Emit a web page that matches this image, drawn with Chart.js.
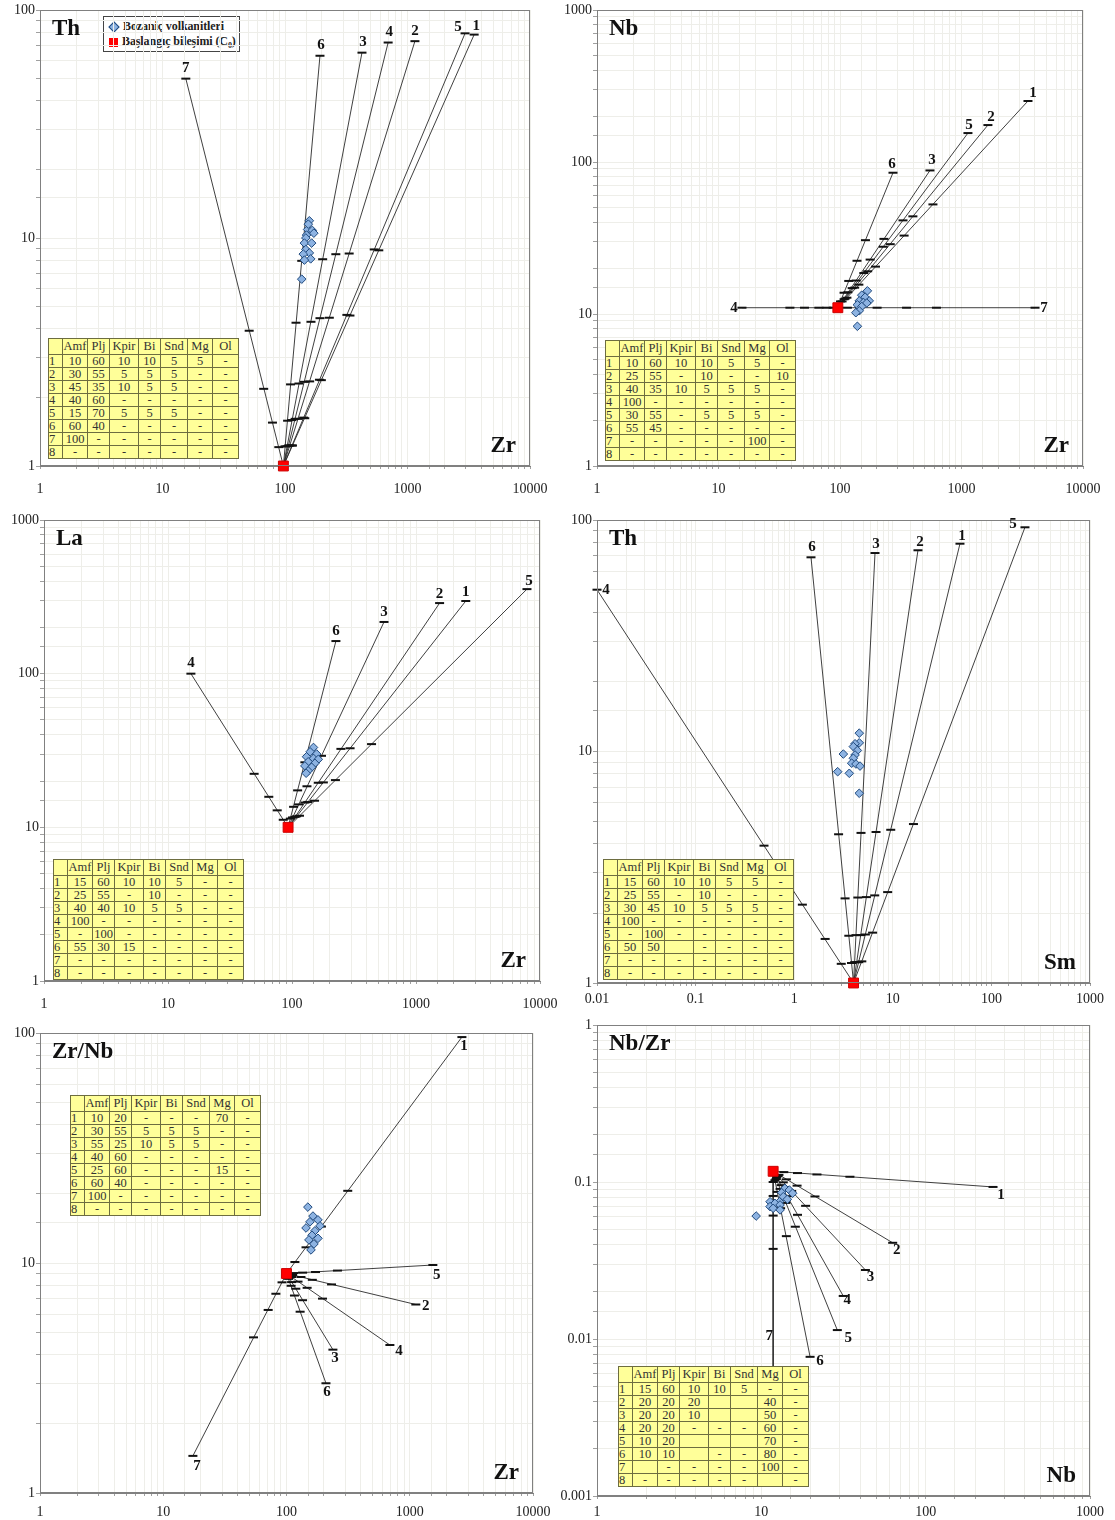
<!DOCTYPE html>
<html>
<head>
<meta charset="utf-8">
<script src="https://cdn.jsdelivr.net/npm/chart.js@4/dist/chart.umd.min.js"></script>
<style>
  body { margin:0; background:#fff; width:1115px; height:1520px; position:relative; overflow:hidden;
         font-family:"Liberation Serif","Times New Roman",serif; }
  canvas.pnl { position:absolute; }
  table.mix { position:absolute; border-collapse:collapse; table-layout:fixed; background:#ffff99;
              font-size:12.5px; color:#333; border:1px solid #55552e; }
  table.mix td { border:1px solid #6d6d40; padding:0; text-align:center; line-height:11px; overflow:hidden; white-space:nowrap; }
  table.mix tr.h td { height:15px; }
  table.mix tr.r td { height:12px; }
  .legend { position:absolute; left:103px; top:16px; width:137px; height:36px; border:1px solid #444; background:#fff;
            font-weight:bold; font-size:12px; color:#222; line-height:15px; padding:2px 0 0 4px; box-sizing:border-box;
            white-space:nowrap; letter-spacing:-0.1px; }
  .legend div { height:15px; }
  .dia { display:inline-block; width:6px; height:6px; background:#8db3e2; border:1px solid #1f497d; transform:rotate(45deg);
         margin:0 5px 0 2px; vertical-align:middle; }
  .sq { display:inline-block; width:9px; height:9px; background:#ff0000; margin:0 4px 0 1px; vertical-align:middle; }
  .legend sub { font-size:8px; line-height:0; }
</style>
</head>
<body>
<div class="legend">
  <div><span class="dia"></span>Bozaniç volkanitleri</div>
  <div><span class="sq"></span>Başlangıç bileşimi (C<sub>0</sub>)</div>
</div>
<script>
// ---------- Th vs Zr ----------
const thZr_c0 = [97, 1];
const thZr_ids = ['1', '2', '3', '4', '5', '6', '7'];
const thZr_ends = [[3500, 78], [1150, 73], [425, 65], [695, 72], [2950, 79], [193, 63], [15.5, 50]];
const thZr_steps = [
  [115, 1.23], [145, 1.62], [198, 2.38], [339, 4.57], [583, 8.83],
  [109, 1.23], [128, 1.61], [159, 2.35], [230, 4.47], [334, 8.55],
  [104, 1.22], [114, 1.59], [130, 2.30], [163, 4.29], [203, 8.07],
  [107, 1.23], [121, 1.61], [144, 2.34], [193, 4.45], [260, 8.49],
  [114, 1.23], [142, 1.63], [191, 2.39], [320, 4.60], [535, 8.91],
  [100, 1.22], [105, 1.58], [111, 2.28], [123, 4.25], [137, 7.94],
  [89, 1.21], [79, 1.55], [67, 2.18], [51, 3.92]
];
const thZr_rocks = [[158, 11.9], [153, 10.9], [167, 10.8], [150, 10.3], [148, 10.0], [144, 9.5], [165, 9.5],
  [148, 8.9], [158, 8.6], [141, 8.5], [162, 8.1], [144, 8.0], [137, 6.6], [172, 10.5], [155, 11.5]];
const thZr_table = [
  ['1', '10', '60', '10', '10', '5', '5', '-'],
  ['2', '30', '55', '5', '5', '5', '-', '-'],
  ['3', '45', '35', '10', '5', '5', '-', '-'],
  ['4', '40', '60', '-', '-', '-', '-', '-'],
  ['5', '15', '70', '5', '5', '5', '-', '-'],
  ['6', '60', '40', '-', '-', '-', '-', '-'],
  ['7', '100', '-', '-', '-', '-', '-', '-'],
  ['8', '-', '-', '-', '-', '-', '-', '-']
];

// ---------- Nb vs Zr ----------
const nbZr_c0 = [96, 11];
const nbZr_ids = ['1', '2', '3', '4', '5', '6', '7'];
const nbZr_ends = [[3525, 252], [1650, 175], [550, 88], [15.6, 11], [1130, 155], [273, 85], [4030, 11]];
const nbZr_steps = [
  [88, 11], [78, 11], [67, 11], [51, 11], [38.7, 11],
  [115, 11], [145, 11], [202, 11], [353, 11], [622, 11],
  [114, 12.8], [143, 15.6], [196, 20.5], [337, 32.8], [582, 52.6],
  [110, 12.6], [132, 14.9], [169, 19.1], [259, 28.8], [398, 43.9],
  [108, 12.5], [126, 14.8], [157, 18.6], [227, 27.7], [330, 41.3],
  [104, 12.1], [116, 13.9], [136, 16.6], [177, 22.8], [230, 31.2],
  [101, 12.1], [108, 13.8], [118, 16.5], [138, 22.4], [162, 30.6]
];
const nbZr_rocks = [[168, 14.2], [151, 13.3], [161, 12.9], [144, 12.2], [174, 12.2], [156, 11.9], [139, 11.5],
  [166, 11.8], [151, 11.2], [144, 10.5], [135, 10.2], [139, 8.3]];
const nbZr_table = [
  ['1', '10', '60', '10', '10', '5', '5', '-'],
  ['2', '25', '55', '-', '10', '-', '-', '10'],
  ['3', '40', '35', '10', '5', '5', '5', '-'],
  ['4', '100', '-', '-', '-', '-', '-', '-'],
  ['5', '30', '55', '-', '5', '5', '5', '-'],
  ['6', '55', '45', '-', '-', '-', '-', '-'],
  ['7', '-', '-', '-', '-', '-', '100', '-'],
  ['8', '-', '-', '-', '-', '-', '-', '-']
];

// ---------- La vs Zr ----------
const laZr_c0 = [93, 10];
const laZr_ids = ['1', '2', '3', '4', '5', '6'];
const laZr_ends = [[2520, 297], [1550, 288], [552, 217], [15.3, 100], [7850, 355], [226, 163]];
const laZr_steps = [
  [109, 11.8], [134, 14.6], [179, 19.6], [294, 32.7],
  [106, 11.7], [127, 14.5], [163, 19.5], [248, 32.4],
  [101, 11.6], [113, 14.1], [132, 18.5], [173, 29.2],
  [85, 11.2], [76, 12.9], [65, 15.8], [49.5, 22.3],
  [115, 11.9], [152, 14.9], [224, 20.3], [438, 34.8],
  [97, 11.4], [103, 13.6], [111, 17.4], [127, 26.5]
];
const laZr_rocks = [[149, 33.1], [140, 31], [158, 30], [131, 28.8], [149, 28.1], [163, 27.7], [135, 26.7],
  [153, 26.1], [127, 25.1], [144, 24.6], [135, 23.3], [130, 22.5]];
const laZr_table = [
  ['1', '15', '60', '10', '10', '5', '-', '-'],
  ['2', '25', '55', '-', '10', '-', '-', '-'],
  ['3', '40', '40', '10', '5', '5', '-', '-'],
  ['4', '100', '-', '-', '-', '-', '-', '-'],
  ['5', '-', '100', '-', '-', '-', '-', '-'],
  ['6', '55', '30', '15', '-', '-', '-', '-'],
  ['7', '-', '-', '-', '-', '-', '-', '-'],
  ['8', '-', '-', '-', '-', '-', '-', '-']
];

// ---------- Th vs Sm ----------
const thSm_c0 = [4, 1];
const thSm_ids = ['1', '2', '3', '4', '5', '6'];
const thSm_ends = [[48, 79], [18, 74], [6.6, 72], [0.01, 50], [219, 93], [1.48, 69]];
const thSm_steps = [
  [4.51, 1.23], [5.27, 1.62], [6.56, 2.39], [9.53, 4.59],
  [4.30, 1.23], [4.72, 1.61], [5.40, 2.35], [6.76, 4.49],
  [4.10, 1.23], [4.23, 1.61], [4.42, 2.34], [4.76, 4.45],
  [3.0, 1.21], [2.06, 1.55], [1.21, 2.18], [0.494, 3.92],
  [4.85, 1.24], [6.24, 1.65], [8.87, 2.47], [16.2, 4.86],
  [3.81, 1.22], [3.58, 1.60], [3.28, 2.32], [2.82, 4.39]
];
const thSm_rocks = [[4.57, 12.0], [4.57, 10.9], [4.14, 10.8], [3.98, 10.5], [4.37, 10.1], [3.15, 9.75], [4.14, 9.66],
  [3.98, 9.35], [3.83, 8.9], [4.23, 8.83], [4.65, 8.65], [2.76, 8.18], [3.62, 8.05], [4.57, 6.6]];
const thSm_table = [
  ['1', '15', '60', '10', '10', '5', '5', '-'],
  ['2', '25', '55', '-', '10', '-', '-', '-'],
  ['3', '30', '45', '10', '5', '5', '5', '-'],
  ['4', '100', '-', '-', '-', '-', '-', '-'],
  ['5', '-', '100', '-', '-', '-', '-', '-'],
  ['6', '50', '50', '', '-', '-', '-', '-'],
  ['7', '-', '-', '-', '-', '-', '-', '-'],
  ['8', '-', '-', '-', '-', '-', '-', '-']
];

// ---------- Zr/Nb vs Zr ----------
const zrnbZr_c0 = [100, 9];
const zrnbZr_ids = ['1', '2', '3', '4', '5', '6', '7'];
const zrnbZr_ends = [[2650, 96], [1120, 6.6], [238, 4.2], [690, 4.4], [1540, 9.8], [209, 3.0], [17.4, 1.45]];
const zrnbZr_steps = [
  [117, 10.1], [144, 11.7], [192, 14.4], [314, 20.6],
  [112, 8.87], [131, 8.69], [162, 8.45], [232, 8.07],
  [104, 8.67], [110, 8.26], [119, 7.73], [135, 6.89],
  [110, 8.69], [124, 8.30], [147, 7.80], [196, 7.0],
  [114, 9.04], [135, 9.08], [172, 9.14], [259, 9.27],
  [104, 8.53], [109, 7.96], [116, 7.22], [129, 6.14],
  [92, 8.24], [82, 7.35], [71, 6.25], [54, 4.75]
];
const zrnbZr_rocks = [[149, 17.5], [164, 16.0], [180, 15.4], [155, 15.1], [187, 14.5], [144, 14.2], [170, 13.8],
  [161, 13.2], [180, 12.8], [152, 12.6], [167, 12.1], [158, 11.4]];
const zrnbZr_table = [
  ['1', '10', '20', '-', '-', '-', '70', '-'],
  ['2', '30', '55', '5', '5', '5', '-', '-'],
  ['3', '55', '25', '10', '5', '5', '-', '-'],
  ['4', '40', '60', '-', '-', '-', '-', '-'],
  ['5', '25', '60', '-', '-', '-', '15', '-'],
  ['6', '60', '40', '-', '-', '-', '-', '-'],
  ['7', '100', '-', '-', '-', '-', '-', '-'],
  ['8', '-', '-', '-', '-', '-', '-', '-']
];

// ---------- Nb/Zr vs Nb ----------
const nbzrNb_c0 = [11.8, 0.117];
const nbzrNb_ids = ['1', '2', '3', '4', '5', '6', '7'];
const nbzrNb_ends = [[257, 0.093], [63, 0.041], [43, 0.0275], [31.5, 0.0188], [29, 0.0114], [19.8, 0.0077], [11.8, 0.0045]];
const nbzrNb_steps = [
  [13.7, 0.1156], [16.6, 0.114], [21.8, 0.1117], [34.6, 0.108],
  [12.8, 0.111], [14.2, 0.104], [16.5, 0.0948], [21.2, 0.0809],
  [12.6, 0.109], [13.6, 0.0995], [15.3, 0.0877], [18.6, 0.0705],
  [12.4, 0.107], [13.2, 0.0955], [14.4, 0.0813], [16.6, 0.0618],
  [12.3, 0.1045], [13.0, 0.0904], [14.1, 0.0736], [16.1, 0.0519],
  [12.1, 0.1026], [12.5, 0.0865], [13.1, 0.0681], [14.2, 0.0452],
  [11.8, 0.100], [11.8, 0.0815], [11.8, 0.0611], [11.8, 0.0375]
];
const nbzrNb_rocks = [[13.9, 0.0912], [14.8, 0.0889], [13.3, 0.0855], [15.5, 0.0848], [13.6, 0.0806], [14.4, 0.0776],
  [12.9, 0.0749], [11.3, 0.0749], [12.1, 0.0731], [13.0, 0.0714], [11.3, 0.0697], [11.8, 0.068], [13.0, 0.0664], [9.3, 0.0607]];
const nbzrNb_table = [
  ['1', '15', '60', '10', '10', '5', '-', '-'],
  ['2', '20', '20', '20', '', '', '40', '-'],
  ['3', '20', '20', '10', '', '', '50', '-'],
  ['4', '20', '20', '-', '-', '-', '60', '-'],
  ['5', '10', '20', '', '', '', '70', '-'],
  ['6', '10', '10', '', '-', '-', '80', '-'],
  ['7', '', '-', '-', '-', '-', '100', '-'],
  ['8', '-', '-', '-', '-', '-', '', '-']
];

const tableHead = ['', 'Amf', 'Plj', 'Kpir', 'Bi', 'Snd', 'Mg', 'Ol'];

// ---------- drawing ----------
const SERIF = '"Liberation Serif", "Times New Roman", serif';
const PAD_R = 25, AXIS_W = 40, AXIS_H = 35, PAD_T = 10;

function tickText(v) {
  const l = Math.log10(v);
  if (Math.abs(l - Math.round(l)) > 1e-6) return '';
  return l < 0 ? v.toFixed(-Math.round(l)) : String(Math.round(v));
}

function logAxis(min, max, isX, labelGap) {
  return {
    type: 'logarithmic', min, max,
    afterFit(s) {
      if (isX) { s.height = AXIS_H; s.paddingLeft = 0; s.paddingRight = 0; }
      else { s.width = AXIS_W; s.paddingTop = 0; s.paddingBottom = 0; }
    },
    border: { display: true, color: '#808080', width: 1 },
    grid: { color: '#eeeee9', lineWidth: 1, drawTicks: true, tickLength: isX ? 3 : 4, tickColor: '#a0a0a0' },
    ticks: {
      autoSkip: false, maxRotation: 0, padding: isX ? labelGap : 1,
      color: '#222', font: { family: SERIF, size: 14 },
      callback: (v) => tickText(v)
    }
  };
}

function buildTable(rows, x, y) {
  const t = document.createElement('table');
  t.className = 'mix';
  t.style.left = x + 'px'; t.style.top = y + 'px'; t.style.width = '190px';
  const widths = [14, 25, 22, 29, 22, 27, 25, 26];
  const cg = document.createElement('colgroup');
  widths.forEach(w => { const c = document.createElement('col'); c.style.width = w + 'px'; cg.appendChild(c); });
  t.appendChild(cg);
  [tableHead].concat(rows).forEach((r, i) => {
    const tr = document.createElement('tr');
    tr.className = i === 0 ? 'h' : 'r';
    r.forEach((c, j) => {
      const td = document.createElement('td');
      td.textContent = c;
      if (j === 0) td.style.textAlign = 'left';
      tr.appendChild(td);
    });
    t.appendChild(tr);
  });
  document.body.appendChild(t);
}

function panel(p) {
  const [L, T, R, B] = p.box;
  const cv = document.createElement('canvas');
  cv.className = 'pnl';
  const w = R - L + AXIS_W + PAD_R, h = B - T + PAD_T + AXIS_H;
  cv.width = w; cv.height = h;
  cv.style.left = (L - AXIS_W) + 'px'; cv.style.top = (T - PAD_T) + 'px';
  cv.style.width = w + 'px'; cv.style.height = h + 'px';
  document.body.appendChild(cv);

  const toXY = (a) => a.map(([x, y]) => ({ x, y }));
  const c0 = { x: p.c0[0], y: p.c0[1] };
  const lineSets = p.ids.map((id, i) => ({
    data: [c0, { x: p.ends[i][0], y: p.ends[i][1] }],
    showLine: true, borderColor: '#2a2a2a', borderWidth: 0.9, pointRadius: 0, clip: false
  }));

  const deco = {
    id: 'deco',
    afterDatasetsDraw(chart) {
      const { ctx, chartArea: a, scales: { x, y } } = chart;
      ctx.save();
      ctx.strokeStyle = '#808080'; ctx.lineWidth = 1;
      ctx.strokeRect(a.left + 0.5, a.top + 0.5, a.right - a.left - 1, a.bottom - a.top - 1);
      ctx.fillStyle = '#111';
      ctx.font = 'bold 15px ' + SERIF;
      ctx.textAlign = 'center'; ctx.textBaseline = 'middle';
      p.ids.forEach((id, i) => {
        const o = p.off[id] || [0, -10];
        ctx.fillText(id, x.getPixelForValue(p.ends[i][0]) + o[0], y.getPixelForValue(p.ends[i][1]) + o[1]);
      });
      ctx.font = 'bold 23px ' + SERIF;
      ctx.textAlign = 'left';
      ctx.fillText(p.title, a.left + 12, a.top + 19);
      ctx.textAlign = 'right';
      ctx.fillText(p.axis, a.right - 14, a.bottom - 20);
      ctx.restore();
    }
  };

  new Chart(cv, {
    type: 'scatter',
    data: {
      datasets: [
        { data: toXY(p.rocks), pointStyle: 'rectRot', pointRadius: 4.3, pointBackgroundColor: '#8db3e2',
          pointBorderColor: '#1f497d', pointBorderWidth: 1 },
        { data: [c0], pointStyle: 'rect', pointRadius: 7, pointBackgroundColor: '#ff0000',
          pointBorderColor: '#cc0000', pointBorderWidth: 1, clip: false },
        { data: toXY(p.steps.concat(p.ends)), pointStyle: 'line', pointRadius: 4.5,
          pointBorderColor: '#111', pointBorderWidth: 2, clip: false }
      ].concat(lineSets)
    },
    options: {
      responsive: false, animation: false, events: [],
      layout: { padding: { top: PAD_T, right: PAD_R, left: 0, bottom: 0 } },
      plugins: { legend: { display: false }, tooltip: { enabled: false } },
      scales: { x: logAxis(p.x[0], p.x[1], true, p.gap), y: logAxis(p.y[0], p.y[1], false) }
    },
    plugins: [deco]
  });
  buildTable(p.table, p.tablePos[0], p.tablePos[1]);
}

panel({ box: [40, 10, 530, 466], x: [1, 10000], y: [1, 100], title: 'Th', axis: 'Zr', gap: 12,
  c0: thZr_c0, ids: thZr_ids, ends: thZr_ends, steps: thZr_steps, rocks: thZr_rocks,
  table: thZr_table, tablePos: [48, 338],
  off: { '1': [2, -8], '2': [0, -10], '3': [1, -11], '4': [1, -10], '5': [-7, -6], '6': [1, -11], '7': [0, -11] } });

panel({ box: [597, 10, 1083, 466], x: [1, 10000], y: [1, 1000], title: 'Nb', axis: 'Zr', gap: 12,
  c0: nbZr_c0, ids: nbZr_ids, ends: nbZr_ends, steps: nbZr_steps, rocks: nbZr_rocks,
  table: nbZr_table, tablePos: [605, 340],
  off: { '1': [5, -8], '2': [3, -8], '3': [2, -10], '4': [-8, 0], '5': [1, -8], '6': [-1, -9], '7': [9, 0] } });

panel({ box: [44, 520, 540, 981], x: [1, 10000], y: [1, 1000], title: 'La', axis: 'Zr', gap: 12,
  c0: laZr_c0, ids: laZr_ids, ends: laZr_ends, steps: laZr_steps, rocks: laZr_rocks,
  table: laZr_table, tablePos: [53, 859],
  off: { '1': [0, -9], '2': [0, -9], '3': [0, -10], '4': [0, -11], '5': [2, -8], '6': [0, -10] } });

panel({ box: [597, 520, 1090, 983], x: [0.01, 1000], y: [1, 100], title: 'Th', axis: 'Sm', gap: 5,
  c0: thSm_c0, ids: thSm_ids, ends: thSm_ends, steps: thSm_steps, rocks: thSm_rocks,
  table: thSm_table, tablePos: [603, 859],
  off: { '1': [2, -8], '2': [2, -8], '3': [1, -9], '4': [9, 0], '5': [-12, -3], '6': [1, -10] } });

panel({ box: [40, 1033, 533, 1493], x: [1, 10000], y: [1, 100], title: 'Zr/Nb', axis: 'Zr', gap: 8,
  c0: zrnbZr_c0, ids: zrnbZr_ids, ends: zrnbZr_ends, steps: zrnbZr_steps, rocks: zrnbZr_rocks,
  table: zrnbZr_table, tablePos: [70, 1095],
  off: { '1': [2, 9], '2': [10, 2], '3': [2, 8], '4': [9, 6], '5': [4, 10], '6': [1, 9], '7': [4, 10] } });

panel({ box: [597, 1025, 1090, 1496], x: [1, 1000], y: [0.001, 1], title: 'Nb/Zr', axis: 'Nb', gap: 5,
  c0: nbzrNb_c0, ids: nbzrNb_ids, ends: nbzrNb_ends, steps: nbzrNb_steps, rocks: nbzrNb_rocks,
  table: nbzrNb_table, tablePos: [618, 1366],
  off: { '1': [8, 8], '2': [4, 7], '3': [5, 7], '4': [4, 4], '5': [11, 8], '6': [10, 4], '7': [-4, -57] } });
</script>
</body>
</html>
